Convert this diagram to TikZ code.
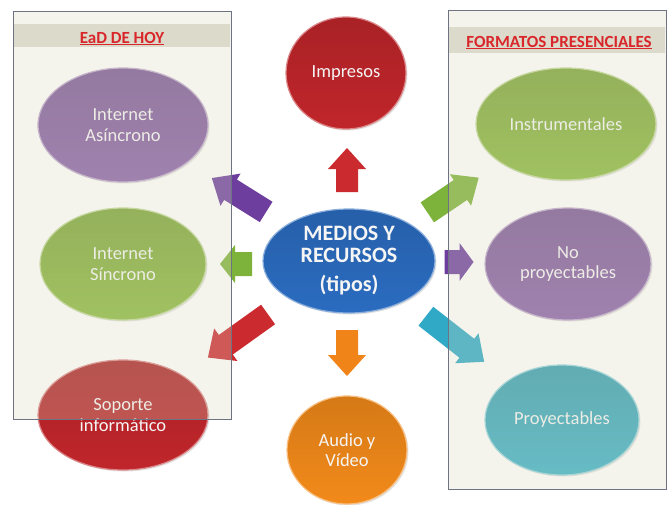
\documentclass[tikz,border=0pt]{standalone}
\usepackage{fontspec}
\setmainfont{Carlito}
\usetikzlibrary{shapes.geometric,shadows}
\definecolor{cpurple}{HTML}{8A62AA}
\definecolor{cgreen}{HTML}{8BBA3E}
\definecolor{cred}{HTML}{C0262B}
\definecolor{cblue}{HTML}{2B6CC0}
\definecolor{corange}{HTML}{F28A1A}
\definecolor{cteal}{HTML}{3CB2C8}
\definecolor{apurple}{HTML}{6E3E9E}
\definecolor{agreen}{HTML}{7DB33A}
\definecolor{ared}{HTML}{CB2A2F}
\definecolor{aorange}{HTML}{F08418}
\definecolor{ateal}{HTML}{2FA9C6}
\definecolor{panelfill}{HTML}{D9D6BC}
\definecolor{panelline}{HTML}{6E7383}
\definecolor{bandfill}{HTML}{DCDACA}
\definecolor{headred}{HTML}{D9262B}
\newcommand\blockarr[8]{%
  \begin{scope}[shift={(#1,#2)},rotate=#3]
    \fill[#5] ({-#4/2},{-#6}) -- ({#4/2-#8},{-#6}) -- ({#4/2-#8},{-#7}) -- ({#4/2},0)
      -- ({#4/2-#8},{#7}) -- ({#4/2-#8},{#6}) -- ({-#4/2},{#6}) -- cycle;
  \end{scope}}
\tikzset{
  oval/.style={ellipse, inner sep=0pt, text=white!96!black,
    font=\fontsize{18.5}{20.5}\selectfont, align=center,
    draw=#1!55!white, line width=1.2pt, top color=#1!88!black, bottom color=#1,
    drop shadow={opacity=0.22, shadow xshift=1.5pt, shadow yshift=-1.5pt}},
  panel/.style={draw=panelline, line width=0.9pt, fill=panelfill, fill opacity=0.28},
  band/.style={fill=bandfill, draw=none},
  headtxt/.style={text=headred, font=\bfseries\fontsize{17}{19}\selectfont, anchor=base, inner sep=0pt},
}
\begin{document}
\begin{tikzpicture}[x=1pt,y=-1pt]
\useasboundingbox (0,0) rectangle (668,504);
\fill[white] (0,0) rectangle (668,504);
% ovals
\node[oval=cpurple, minimum width=170pt, minimum height=114pt] (asinc) at (123,125) {Internet\\Asíncrono};
\node[oval=cgreen, minimum width=166pt, minimum height=112pt] (sinc) at (123,264) {Internet\\Síncrono};
\node[oval=cred, minimum width=170pt, minimum height=110pt] (sop) at (123,415) {Soporte\\informático};
\node[oval=cred, minimum width=120pt, minimum height=112pt] (imp) at (346,73) {Impresos};
\node[oval=cblue, minimum width=172pt, minimum height=104pt, font=\bfseries\fontsize{22}{22}\selectfont] (centro) at (349,261) {MEDIOS Y\\RECURSOS\\[7pt](tipos)};
\node[oval=corange, minimum width=120pt, minimum height=108pt] (audio) at (347,450) {Audio y\\Vídeo};
\node[oval=cgreen, minimum width=180pt, minimum height=112pt] (instr) at (566,124) {Instrumentales};
\node[oval=cpurple, minimum width=166pt, minimum height=112pt] (noproy) at (568,264) {No\\proyectables};
\node[oval=cteal, minimum width=154pt, minimum height=110pt] (proy) at (562,420) {Proyectables};
% block arrows
\blockarr{347}{170}{90}{44}{ared}{11}{19}{21}
\blockarr{239}{195}{148}{64}{apurple}{12}{19}{22}
\blockarr{236}{264}{180}{32}{agreen}{12}{19}{15}
\blockarr{238}{336}{215.6}{74}{ared}{12}{20}{22}
\blockarr{347}{353}{270}{46}{aorange}{11}{19}{21}
\blockarr{453}{195}{34}{62}{agreen}{12}{19}{22}
\blockarr{459}{262}{0}{29}{apurple}{12}{19}{14}
\blockarr{455}{339}{-38}{74}{ateal}{12}{19}{22}
% panels
\draw[panel] (13,11) rectangle (231,419);
\draw[panel] (448,10) rectangle (666,489);
\fill[band] (14,24) rectangle (230,47);
\fill[band] (449,27) rectangle (665,53);
\node[headtxt] (hleft) at (122,43) {\underline{EaD DE HOY}};
\node[headtxt] (hright) at (559,47) {\underline{FORMATOS PRESENCIALES}};
\end{tikzpicture}
\end{document}
